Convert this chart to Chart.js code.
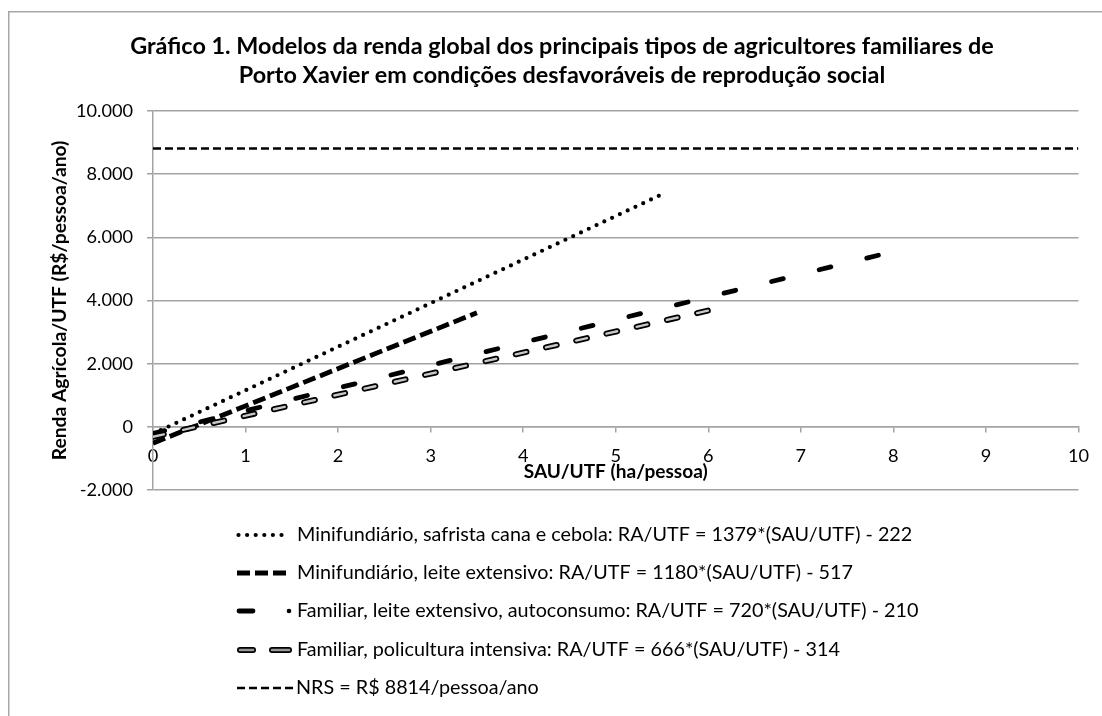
<!DOCTYPE html>
<html lang="pt-BR">
<head>
<meta charset="utf-8">
<title>Gráfico 1</title>
<script src="https://cdn.jsdelivr.net/npm/chart.js@4.4.0/dist/chart.umd.min.js"></script>
<style>
  html, body { margin: 0; padding: 0; background: #fff; }
  #wrap { width: 1102px; height: 716px; position: relative; }
</style>
</head>
<body>
<div id="wrap"><canvas id="grafico" width="1102" height="716"></canvas></div>
<script>
// dados (extremos de cada reta)
const safristaX = [0, 5.5];
const safristaY = [-222, 7363];
const leiteX = [0, 3.5];
const leiteY = [-517, 3613];
const autoconsumoX = [0, 8];
const autoconsumoY = [-210, 5550];
const policulturaX = [0, 6];
const policulturaY = [-314, 3682];
const nrsX = [0, 10];
const nrsY = [8814, 8814];

const xTicks = [0, 1, 2, 3, 4, 5, 6, 7, 8, 9, 10];
const yTicks = [-2000, 0, 2000, 4000, 6000, 8000, 10000];

const legendas = [
    'Minifundiário, safrista cana e cebola: RA/UTF = 1379*(SAU/UTF) - 222',
    'Minifundiário, leite extensivo: RA/UTF = 1180*(SAU/UTF) - 517',
    'Familiar, leite extensivo, autoconsumo: RA/UTF = 720*(SAU/UTF) - 210',
    'Familiar, policultura intensiva: RA/UTF = 666*(SAU/UTF) - 314',
    'NRS = R$ 8814/pessoa/ano'
];

const titulo = [
    'Gráfico 1. Modelos da renda global dos principais tipos de agricultores familiares de',
    'Porto Xavier em condições desfavoráveis de reprodução social'
];
const tituloY = 'Renda Agrícola/UTF (R$/pessoa/ano)';
const tituloX = 'SAU/UTF (ha/pessoa)';

const FONT = 'Lato';
const cinza = '#a3a3a3';

// ajusta o tamanho da fonte a uma largura desejada
const mctx = document.createElement('canvas').getContext('2d');
function fitSize(text, weight, width) {
    mctx.font = weight + ' 100px ' + FONT;
    return 100 * width / mctx.measureText(text).width;
}

const sizeTitle = fitSize(titulo[0], 'bold', 864);
const sizeTick = fitSize('10.000', 'normal', 57);
const sizeYTitle = fitSize(tituloY, 'bold', 320);
const sizeXTitle = fitSize(tituloX, 'bold', 184);
const sizeLegend = fitSize(legendas[0], 'normal', 616);

const tickPadX = 13;
const xTitlePadTop = 45 - 5 - sizeTick * 1.2 - 2 * tickPadX - sizeXTitle * 0.6;

function pontos(xs, ys) {
    return xs.map((x, i) => ({ x: x, y: ys[i] }));
}

function milhar(v) {
    return String(v).replace(/\B(?=(\d{3})+(?!\d))/g, '.');
}

// estilos das linhas (usados também na legenda)
const estilos = [
    { color: '#000', width: 4.2, dash: [0, 8.6], cap: 'round' },
    { color: '#000', width: 4.8, dash: [13, 5], cap: 'butt' },
    { color: '#000', width: 4.8, dash: [12, 37], cap: 'round' },
    { color: '#000', width: 6, dash: [11, 20], cap: 'round', inner: '#c8c8c8', innerWidth: 2.4 },
    { color: '#000', width: 2.5, dash: [8, 4], cap: 'butt' }
];

function linha(data, st, extra) {
    return Object.assign({
        data: data,
        borderColor: st.color,
        borderWidth: st.width,
        borderDash: st.dash,
        borderCapStyle: st.cap,
        pointRadius: 0,
        fill: false,
        tension: 0
    }, extra || {});
}

const series = [
    pontos(safristaX, safristaY),
    pontos(leiteX, leiteY),
    pontos(autoconsumoX, autoconsumoY),
    pontos(policulturaX, policulturaY),
    pontos(nrsX, nrsY)
];

const datasets = series.map((d, i) => linha(d, estilos[i], { label: legendas[i], order: 2 }));
// contorno claro por dentro da linha de policultura
datasets.push(linha(series[3], {
    color: estilos[3].inner, width: estilos[3].innerWidth, dash: estilos[3].dash, cap: 'round'
}, { label: 'interno', order: 0 }));

const fundo = {
    id: 'fundo',
    beforeDraw(chart) {
        const c = chart.ctx;
        c.save();
        c.fillStyle = '#fff';
        c.fillRect(0, 0, chart.width, chart.height);
        c.strokeStyle = '#a8a8a8';
        c.lineWidth = 1.5;
        c.beginPath();
        c.moveTo(chart.width, 11.75);
        c.lineTo(8.75, 11.75);
        c.lineTo(8.75, chart.height);
        c.stroke();
        c.restore();
    }
};

const legenda = {
    id: 'legenda',
    afterDraw(chart) {
        const c = chart.ctx;
        const rows = [535, 573, 611, 650, 688];
        const x0 = 237, x1 = 286, tx = 297;
        c.save();
        c.font = sizeLegend + 'px ' + FONT;
        c.fillStyle = '#000';
        c.textBaseline = 'middle';
        legendas.forEach((txt, i) => {
            const y = rows[i];
            const st = estilos[i];
            c.strokeStyle = st.color;
            c.lineWidth = st.width;
            c.lineCap = st.cap;
            c.setLineDash(st.dash);
            c.beginPath();
            if (i === 2) {
                c.setLineDash([]);
                c.moveTo(x0 + 2, y); c.lineTo(x0 + 16, y);
                c.stroke();
                c.beginPath();
                c.fillStyle = '#000';
                c.arc(289, y, 2.3, 0, Math.PI * 2);
                c.fill();
            } else if (i === 3) {
                c.setLineDash([]);
                [[x0 + 3, x0 + 16], [x0 + 35, x0 + 52]].forEach(seg => {
                    c.strokeStyle = '#000';
                    c.lineWidth = 6;
                    c.beginPath(); c.moveTo(seg[0], y); c.lineTo(seg[1], y); c.stroke();
                    c.strokeStyle = '#999';
                    c.lineWidth = 2.6;
                    c.beginPath(); c.moveTo(seg[0], y); c.lineTo(seg[1], y); c.stroke();
                });
            } else {
                const end = i === 4 ? 294 : x1;
                c.moveTo(x0 + (st.cap === 'round' ? 1.5 : 0), y);
                c.lineTo(end, y);
                c.stroke();
            }
            c.setLineDash([]);
            c.fillStyle = '#000';
            c.fillText(txt, i === 4 ? 296 : tx, y);
        });
        c.restore();
    }
};

Chart.defaults.font.family = FONT;
Chart.defaults.color = '#000';

new Chart(document.getElementById('grafico'), {
    type: 'line',
    data: { datasets: datasets },
    plugins: [fundo, legenda],
    options: {
        responsive: false,
        animation: false,
        events: [],
        layout: { padding: { left: 45, right: 23, top: 0, bottom: 226 } },
        plugins: {
            legend: { display: false },
            tooltip: { enabled: false },
            title: {
                display: true,
                text: titulo,
                color: '#000',
                font: { size: sizeTitle, weight: 'bold', lineHeight: 29 / sizeTitle },
                padding: { top: 31.5, bottom: 21.5 }
            }
        },
        scales: {
            x: {
                type: 'linear',
                position: { y: 0 },
                min: xTicks[0],
                max: xTicks[xTicks.length - 1],
                ticks: {
                    stepSize: xTicks[1] - xTicks[0],
                    padding: tickPadX,
                    font: { size: sizeTick, lineHeight: 1.2 },
                    color: '#000'
                },
                grid: { drawOnChartArea: false, tickLength: 5, color: cinza, lineWidth: 1.5 },
                border: { color: cinza, width: 1.5 },
                title: {
                    display: true,
                    text: tituloX,
                    color: '#000',
                    font: { size: sizeXTitle, weight: 'bold', lineHeight: 1.2 },
                    padding: { top: xTitlePadTop, bottom: 0 }
                }
            },
            y: {
                type: 'linear',
                min: yTicks[0],
                max: yTicks[yTicks.length - 1],
                afterFit(scale) { scale.width = 108; },
                ticks: {
                    stepSize: yTicks[1] - yTicks[0],
                    padding: 14,
                    font: { size: sizeTick },
                    color: '#000',
                    callback: v => milhar(v)
                },
                grid: { color: cinza, lineWidth: 1.5, tickLength: 6 },
                border: { color: cinza, width: 1.5 },
                title: {
                    display: true,
                    text: tituloY,
                    color: '#000',
                    font: { size: sizeYTitle, weight: 'bold', lineHeight: 1.2 },
                    padding: { top: 15 - sizeYTitle * 0.6, bottom: 0 }
                }
            }
        }
    }
});
</script>
</body>
</html>
